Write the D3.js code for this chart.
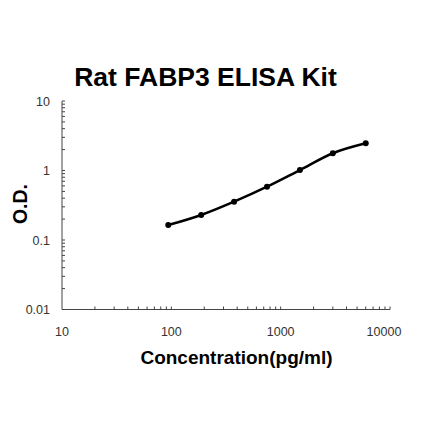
<!DOCTYPE html>
<html>
<head>
<meta charset="utf-8">
<script src="https://cdn.jsdelivr.net/npm/d3@7"></script>
<style>
  html, body { margin: 0; padding: 0; background: #fff; }
</style>
</head>
<body>
<script>
var title = "Rat FABP3 ELISA Kit";
var xLabel = "Concentration(pg/ml)";
var yLabel = "O.D.";

var conc = [93.75, 187.5, 375, 750, 1500, 3000, 6000];
var od = [0.164, 0.229, 0.356, 0.585, 1.016, 1.77, 2.46];

var xTicks = [10, 100, 1000, 10000];
var yTicks = [0.01, 0.1, 1, 10];

var width = 421, height = 421;

var svg = d3.select("body")
  .append("svg")
  .attr("width", width)
  .attr("height", height);

var x = d3.scaleLog().domain([10, 10000]).range([62, 390]);
var y = d3.scaleLog().domain([0.01, 10]).range([309.5, 101]);

// minor ticks for each decade
function minors(domain) {
  var out = [];
  for (var d = domain[0]; d < domain[1]; d *= 10) {
    for (var k = 2; k <= 9; k++) out.push(d * k);
  }
  return out;
}

var g = svg.append("g");

// x axis
g.append("line")
  .attr("x1", x(10)).attr("x2", x(10000))
  .attr("y1", y(0.01)).attr("y2", y(0.01))
  .attr("stroke", "#444").attr("stroke-width", 1);

g.selectAll(".xminor")
  .data(minors([10, 10000]).concat(xTicks.slice(1)))
  .enter().append("line")
    .attr("x1", function(d) { return x(d); })
    .attr("x2", function(d) { return x(d); })
    .attr("y1", y(0.01))
    .attr("y2", y(0.01) - 3)
    .attr("stroke", "#444");

// last label is pulled in a bit, like the original
g.selectAll(".xlab")
  .data(xTicks)
  .enter().append("text")
    .attr("x", function(d) { return Math.min(x(d), 384); })
    .attr("y", 336)
    .attr("text-anchor", "middle")
    .attr("font-family", "Liberation Sans, Arial, sans-serif")
    .attr("font-size", 12.5)
    .attr("fill", "#333")
    .text(function(d) { return d; });

// y axis
g.append("line")
  .attr("x1", x(10)).attr("x2", x(10))
  .attr("y1", y(0.01)).attr("y2", y(10))
  .attr("stroke", "#444").attr("stroke-width", 1);

g.selectAll(".yminor")
  .data(minors([0.01, 10]).concat(yTicks.slice(1)))
  .enter().append("line")
    .attr("x1", x(10))
    .attr("x2", x(10) + 3)
    .attr("y1", function(d) { return y(d); })
    .attr("y2", function(d) { return y(d); })
    .attr("stroke", "#444");

g.selectAll(".ylab")
  .data(yTicks)
  .enter().append("text")
    .attr("x", 50)
    .attr("y", function(d) { return y(d) + 4.5; })
    .attr("text-anchor", "end")
    .attr("font-family", "Liberation Sans, Arial, sans-serif")
    .attr("font-size", 12.5)
    .attr("fill", "#333")
    .text(function(d) { return d; });

// curve
var pts = conc.map(function(c, i) { return [c, od[i]]; });

var line = d3.line()
  .x(function(d) { return x(d[0]); })
  .y(function(d) { return y(d[1]); })
  .curve(d3.curveMonotoneX);

g.append("path")
  .datum(pts)
  .attr("d", line)
  .attr("fill", "none")
  .attr("stroke", "#000")
  .attr("stroke-width", 2.5);

g.selectAll(".pt")
  .data(pts)
  .enter().append("circle")
    .attr("cx", function(d) { return x(d[0]); })
    .attr("cy", function(d) { return y(d[1]); })
    .attr("r", 3)
    .attr("fill", "#000");

// titles
svg.append("text")
  .attr("x", 205.5)
  .attr("y", 86)
  .attr("text-anchor", "middle")
  .attr("font-family", "Liberation Sans, Arial, sans-serif")
  .attr("font-weight", "bold")
  .attr("font-size", 26.5)
  .text(title);

svg.append("text")
  .attr("x", 236.5)
  .attr("y", 364)
  .attr("text-anchor", "middle")
  .attr("font-family", "Liberation Sans, Arial, sans-serif")
  .attr("font-weight", "bold")
  .attr("font-size", 19)
  .text(xLabel);

svg.append("text")
  .attr("transform", "translate(27,204) rotate(-90)")
  .attr("text-anchor", "middle")
  .attr("font-family", "Liberation Sans, Arial, sans-serif")
  .attr("font-weight", "bold")
  .attr("font-size", 19.5)
  .text(yLabel);
</script>
</body>
</html>
